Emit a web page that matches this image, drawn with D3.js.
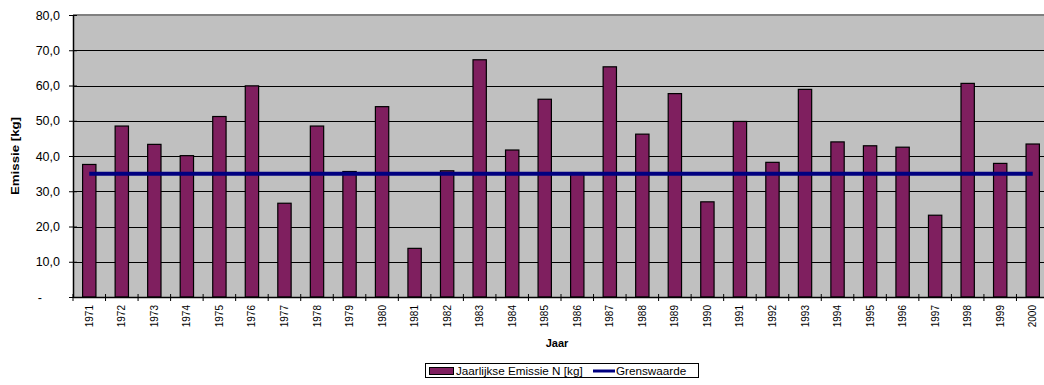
<!DOCTYPE html>
<html>
<head>
<meta charset="utf-8">
<script src="https://cdn.jsdelivr.net/npm/d3@7"></script>
<style>
  html, body { margin: 0; padding: 0; background: #fff; overflow: hidden; }
  svg { display: block; font-family: "Liberation Sans", Arial, sans-serif; }
</style>
</head>
<body>
<svg id="chart" width="1044" height="385"></svg>
<script>
// Jaarlijkse stikstofemissie per jaar, met grenswaarde
const years = ["1971","1972","1973","1974","1975","1976","1977","1978","1979","1980",
               "1981","1982","1983","1984","1985","1986","1987","1988","1989","1990",
               "1991","1992","1993","1994","1995","1996","1997","1998","1999","2000"];
const emissie = [37.6, 48.5, 43.3, 40.1, 51.2, 59.9, 26.6, 48.5, 35.6, 54.0,
                 13.8, 35.8, 67.3, 41.7, 56.1, 35.3, 65.3, 46.2, 57.7, 27.0,
                 49.8, 38.2, 58.9, 44.0, 42.9, 42.5, 23.2, 60.6, 37.9, 43.4];
const grenswaarde = [35.0, 35.0, 35.0, 35.0, 35.0, 35.0, 35.0, 35.0, 35.0, 35.0,
                     35.0, 35.0, 35.0, 35.0, 35.0, 35.0, 35.0, 35.0, 35.0, 35.0,
                     35.0, 35.0, 35.0, 35.0, 35.0, 35.0, 35.0, 35.0, 35.0, 35.0];
const yTicks = [0, 10, 20, 30, 40, 50, 60, 70, 80];
const legendLabels = ["Jaarlijkse Emissie N [kg]", "Grenswaarde"];

const barColor = "#7f1f5f";
const lineColor = "#000080";

const svg = d3.select("#chart");
const plot = { left: 73, top: 15, right: 1049, bottom: 297 };

const x = d3.scaleBand().domain(years).range([plot.left, plot.right]).padding(0);
const y = d3.scaleLinear().domain([0, 80]).range([plot.bottom, plot.top]);
const barW = x.bandwidth() * 0.41;

// plot background
svg.append("rect")
  .attr("x", plot.left).attr("y", plot.top)
  .attr("width", plot.right - plot.left).attr("height", plot.bottom - plot.top)
  .attr("fill", "#c0c0c0");

// horizontal gridlines
svg.append("g").selectAll("line")
  .data(yTicks.filter(d => d > 0 && d < 80))
  .join("line")
  .attr("x1", plot.left).attr("x2", plot.right)
  .attr("y1", d => Math.round(y(d)) + 0.5).attr("y2", d => Math.round(y(d)) + 0.5)
  .attr("stroke", "#000").attr("stroke-width", 1);

// top border
svg.append("line")
  .attr("x1", plot.left).attr("x2", plot.right)
  .attr("y1", plot.top).attr("y2", plot.top)
  .attr("stroke", "#808080").attr("stroke-width", 2);

// bars
svg.append("g").selectAll("rect")
  .data(years.map((yr, i) => ({ yr, v: emissie[i] })))
  .join("rect")
  .attr("x", d => x(d.yr) + (x.bandwidth() - barW) / 2)
  .attr("y", d => y(d.v))
  .attr("width", barW)
  .attr("height", d => y(0) - y(d.v))
  .attr("fill", barColor)
  .attr("stroke", "#000").attr("stroke-width", 1.2);

// limit line
const line = d3.line()
  .x((d, i) => x(years[i]) + x.bandwidth() / 2)
  .y(d => y(d));
svg.append("path")
  .datum(grenswaarde)
  .attr("d", line)
  .attr("fill", "none")
  .attr("stroke", lineColor)
  .attr("stroke-width", 4);

// y axis
const yAxis = d3.axisLeft(y)
  .tickValues(yTicks)
  .tickSizeInner(4).tickSizeOuter(0)
  .tickPadding(9)
  .tickFormat(d => d === 0 ? "-" : d3.format(".1f")(d).replace(".", ","));
const gy = svg.append("g").attr("transform", `translate(${plot.left},0)`).call(yAxis);
gy.select(".domain").attr("stroke", "#000").attr("stroke-width", 1.5);
gy.selectAll(".tick line").attr("stroke", "#000").attr("x2", 4).attr("x1", -4);
gy.selectAll(".tick text")
  .attr("font-size", 12.5).attr("fill", "#000")
  .attr("font-family", "Liberation Sans, Arial, sans-serif")
  .attr("dx", d => d === 0 ? -18 : 0);

// x axis
const xAxis = d3.axisBottom(x).tickSize(0).tickSizeOuter(0);
const gx = svg.append("g").attr("transform", `translate(0,${plot.bottom})`).call(xAxis);
gx.select(".domain").attr("stroke", "#000").attr("stroke-width", 1.5);
gx.selectAll(".tick text")
  .attr("font-size", 10).attr("fill", "#000")
  .attr("font-family", "Liberation Sans, Arial, sans-serif")
  .attr("text-anchor", "end")
  .attr("transform", "rotate(-90)")
  .attr("x", -8).attr("y", 0).attr("dy", "0.35em");
// category separators
svg.append("g").selectAll("line")
  .data(years.slice(1))
  .join("line")
  .attr("x1", d => x(d)).attr("x2", d => x(d))
  .attr("y1", plot.bottom - 3).attr("y2", plot.bottom + 4)
  .attr("stroke", "#000");
svg.append("line")
  .attr("x1", plot.left).attr("x2", plot.left)
  .attr("y1", plot.bottom - 3).attr("y2", plot.bottom + 4)
  .attr("stroke", "#000");

// axis titles
svg.append("text")
  .attr("x", (plot.left + plot.right) / 2 - 4).attr("y", 347)
  .attr("text-anchor", "middle")
  .attr("font-size", 11).attr("font-weight", "bold")
  .text("Jaar");
svg.append("text")
  .attr("transform", `translate(19,${(plot.top + plot.bottom) / 2}) rotate(-90)`)
  .attr("text-anchor", "middle")
  .attr("font-size", 11).attr("font-weight", "bold")
  .attr("textLength", 78).attr("lengthAdjust", "spacingAndGlyphs")
  .text("Emissie [kg]");

// legend
const lg = svg.append("g");
lg.append("rect")
  .attr("x", 425.5).attr("y", 363.5).attr("width", 273).attr("height", 14)
  .attr("fill", "#fff").attr("stroke", "#000").attr("stroke-width", 1);
lg.append("rect")
  .attr("x", 429.5).attr("y", 367.5).attr("width", 24).attr("height", 7)
  .attr("fill", barColor).attr("stroke", "#000").attr("stroke-width", 1);
lg.append("text")
  .attr("x", 456).attr("y", 375)
  .attr("font-size", 11.7).text(legendLabels[0]);
lg.append("line")
  .attr("x1", 593).attr("x2", 615).attr("y1", 371).attr("y2", 371)
  .attr("stroke", lineColor).attr("stroke-width", 3);
lg.append("text")
  .attr("x", 616).attr("y", 375)
  .attr("font-size", 11.7).text(legendLabels[1]);
</script>
</body>
</html>
